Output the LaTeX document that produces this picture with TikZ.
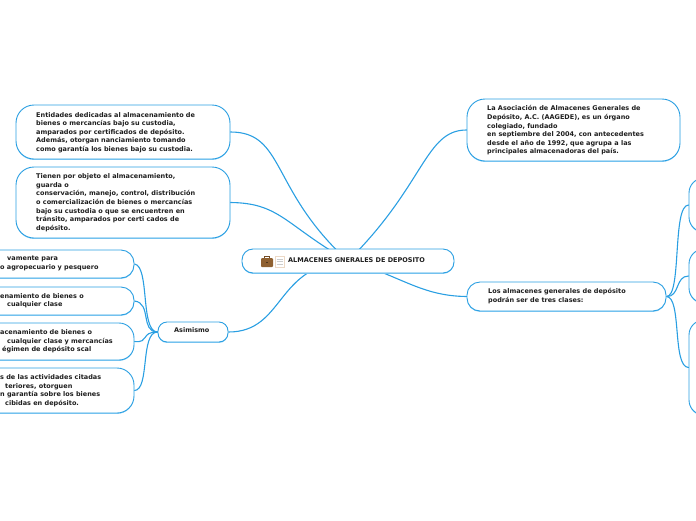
\documentclass[tikz,border=0pt]{standalone}
\usepackage{fontspec}
\setmainfont{DejaVu Sans}
\usetikzlibrary{shadows}
\pgfdeclarelayer{background}
\pgfsetlayers{background,main}
\definecolor{linkblue}{HTML}{2A9FE2}
\definecolor{lowblue}{HTML}{8CCFF6}
\definecolor{inktext}{HTML}{1E1E1E}
\tikzset{
  topic/.style n args={3}{draw=linkblue, line width=0.9pt, fill=white, rounded corners=#3,
    minimum width=#1, minimum height=#2, inner xsep=0pt, inner ysep=0pt,
    general shadow={fill=lowblue, shadow xshift=0pt, shadow yshift=-0.9pt}},
  words/.style={font=\fontsize{6.5}{8.6}\selectfont\bfseries, text=inktext, align=left, anchor=north west, inner sep=0pt},
  link/.style={draw=linkblue, line width=1.1pt, line cap=round}
}
\begin{document}
\begin{tikzpicture}[x=1pt,y=-1pt]
\useasboundingbox (0,0) rectangle (696,520);
\clip (0,0) rectangle (696,520);
% boxes
\node[topic={214pt}{54pt}{18pt}] (ent) at (123,132) {};
\node[topic={214pt}{71pt}{18pt}] (obj) at (123,202.5) {};
\node[topic={212pt}{24pt}{11pt}] (main) at (348,261) {};
\node[topic={213pt}{62pt}{18pt}] (asoc) at (573.5,130) {};
\node[topic={199pt}{29pt}{13pt}] (clases) at (566.5,296.5) {};
\node[topic={70pt}{20pt}{9pt}] (asi) at (193,332) {};
\node[topic={200pt}{28pt}{13pt}] (l1) at (34,264) {};
\node[topic={200pt}{28pt}{13pt}] (l2) at (34,301) {};
\node[topic={200pt}{37pt}{15pt}] (l3) at (34,341.5) {};
\node[topic={200pt}{45pt}{17pt}] (l4) at (34,390.5) {};
\node[topic={100pt}{54pt}{15pt}] (r1) at (739,205) {};
\node[topic={100pt}{54pt}{15pt}] (r2) at (739,276) {};
\node[topic={100pt}{95pt}{15pt}] (r3) at (739,367.5) {};
% connectors
\begin{pgfonlayer}{background}
\draw[link] (ent.east) .. controls (285,132) and (270,190) .. (main.center);
\draw[link] (obj.east) .. controls (280,203) and (285,225) .. (main.center);
\draw[link] (asoc.west) .. controls (425,130) and (425,185) .. (main.center);
\draw[link] (clases.west) .. controls (420,296) and (400,275) .. (main.center);
\draw[link] (asi.east) .. controls (285,332) and (275,265) .. (main.center);
\draw[link] (l1.east) .. controls (150,266) and (140,332) .. (asi.west);
\draw[link] (l2.east) .. controls (152,303) and (140,332) .. (asi.west);
\draw[link] (l3.east) .. controls (150,343) and (140,332) .. (asi.west);
\draw[link] (l4.east) .. controls (150,390) and (140,332) .. (asi.west);
\draw[link] (clases.east) .. controls (682,297) and (672,205) .. (r1.west);
\draw[link] (clases.east) .. controls (680,297) and (675,276) .. (r2.west);
\draw[link] (clases.east) .. controls (682,297) and (672,367) .. (r3.west);
\end{pgfonlayer}
% texts
\node[words] (t1) at (36,112) {Entidades dedicadas al almacenamiento de\\bienes o mercancías bajo su custodia,\\amparados por certificados de depósito.\\Además, otorgan nanciamiento tomando\\como garantía los bienes bajo su custodia.};
\node[words] (t2) at (36,173.5) {Tienen por objeto el almacenamiento,\\guarda o\\conservación, manejo, control, distribución\\o comercialización de bienes o mercancías\\bajo su custodia o que se encuentren en\\tránsito, amparados por certi cados de\\depósito.};
\node[words] (t3) at (288,257) {ALMACENES GNERALES DE DEPOSITO};
\node[words] (t4) at (487,105.5) {La Asociación de Almacenes Generales de\\Depósito, A.C. (AAGEDE), es un órgano\\colegiado, fundado\\en septiembre del 2004, con antecedentes\\desde el año de 1992, que agrupa a las\\principales almacenadoras del país.};
\node[words] (t5) at (488,288.5) {Los almacenes generales de depósito\\podrán ser de tres clases:};
\node[words] (t6) at (174,327.5) {Asimismo};
\node[words] (t7) at (0,256) {\hspace*{7pt}vamente para\\o agropecuario y pesquero};
\node[words] (t8) at (0,293) {enamiento de bienes o\\\hspace*{7pt}cualquier clase};
\node[words] (t9) at (0,329.5) {acenamiento de bienes o\\\hspace*{7pt}cualquier clase y mercancías\\\hspace*{2pt}égimen de depósito scal};
\node[words] (t10) at (0,374.5) {s de las actividades citadas\\\hspace*{5pt}teriores, otorguen\\n garantía sobre los bienes\\\hspace*{5pt}cibidas en depósito.};
% icons
\fill[rounded corners=1pt, fill=brown!75!black] (261,258) rectangle (273,267);
\draw[brown!60!black, line width=0.7pt] (264.5,258) -- (264.5,256) -- (269.5,256) -- (269.5,258);
\fill[brown!40!black] (266.3,262) rectangle (267.7,263.2);
\draw[draw=brown!30, fill=white, line width=0.8pt] (275,256) rectangle (284,267);
\draw[gray!40, line width=0.5pt] (276.5,259) -- (282.5,259) (276.5,261.5) -- (282.5,261.5) (276.5,264) -- (282.5,264);
\end{tikzpicture}
\end{document}
